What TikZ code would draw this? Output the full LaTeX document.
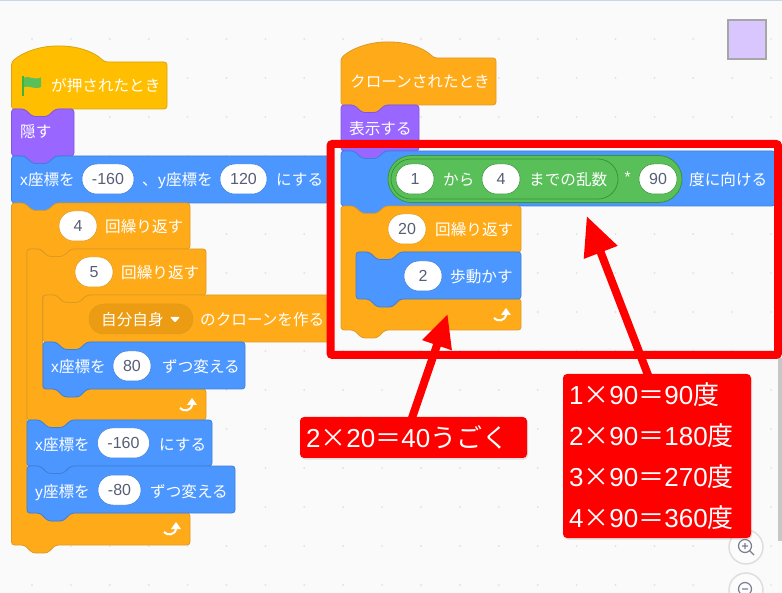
\documentclass[tikz,border=0pt]{standalone}
\usepackage{fontspec}
\setmainfont{Liberation Sans}
\newfontfamily\cjk{Noto Sans CJK JP}
\usetikzlibrary{arrows.meta,shadows}
\newcommand{\jp}[1]{{\cjk #1}}
\definecolor{motionblue}{HTML}{4C97FF}
\definecolor{motionline}{HTML}{3F7FDA}
\definecolor{ctrlorange}{HTML}{FFAB19}
\definecolor{ctrlline}{HTML}{DB9A25}
\definecolor{ctrldark}{HTML}{EC9C13}
\definecolor{looksviolet}{HTML}{9966FF}
\definecolor{looksline}{HTML}{8257DB}
\definecolor{eventyellow}{HTML}{FFBF00}
\definecolor{eventline}{HTML}{D9A50F}
\definecolor{opgreen}{HTML}{59C059}
\definecolor{opline}{HTML}{389438}
\definecolor{pilltext}{HTML}{575E75}
\definecolor{spritefill}{HTML}{D9C6FF}
\definecolor{topline}{HTML}{C9D6E8}
\tikzset{
	motion/.style={draw=motionline,fill=motionblue,line width=0.8pt,rounded corners=3pt},
	ctrl/.style={draw=ctrlline,fill=ctrlorange,line width=0.8pt,rounded corners=3pt},
	looks/.style={draw=looksline,fill=looksviolet,line width=0.8pt,rounded corners=3pt},
	event/.style={draw=eventline,fill=eventyellow,line width=0.8pt,rounded corners=3pt},
	lbl/.style={anchor=west,inner sep=0pt,text=white,text height=14pt,text depth=0pt,font=\fontsize{15.6}{18}\selectfont},
	pill/.style={rounded corners=14.9pt,fill=white,draw=#1,line width=0.5pt,inner sep=0pt,minimum height=30pt,text=pilltext,font=\fontsize{16}{18}\selectfont},
	pill/.default=motionline,
	note/.style={fill=red,text=white,rounded corners=4pt,inner ysep=0pt,inner xsep=6pt,align=left,drop shadow={opacity=0.22,shadow xshift=1pt,shadow yshift=-1.5pt}},
	notearrow/.style n args={2}{draw=red,line width=8pt,-{Triangle[length=#1,width=#2]}},
}
% left, top, right, bottom
\newcommand{\stackblock}[5]{
	\draw[#1] (#2,#3) -- ({#2+13},#3) -- ({#2+21},{#3+7.5}) -- ({#2+36},{#3+7.5}) -- ({#2+44},#3) -- (#4,#3) -- (#4,#5)
		-- ({#2+44},#5) -- ({#2+36},{#5+8}) -- ({#2+21},{#5+8}) -- ({#2+13},#5) -- (#2,#5) -- cycle;
}
% left, hat top, right, bottom
\newcommand{\hatblock}[5]{
	\draw[#1] (#2,{#3+16}) .. controls ({#2+14},{#3+4}) and ({#2+33},#3) .. ({#2+47},#3) .. controls ({#2+62},#3) and ({#2+81},{#3+4}) .. ({#2+93},{#3+16})
		[rounded corners=3pt] -- (#4,{#3+16}) -- (#4,#5) -- ({#2+44},#5) -- ({#2+36},{#5+8}) -- ({#2+21},{#5+8}) -- ({#2+13},#5) -- (#2,#5) -- cycle;
}
% left, top, right, bar bottom, foot top, bottom
\newcommand{\loopblock}[6]{
	\draw[ctrl] (#1,#2) -- ({#1+13},#2) -- ({#1+21},{#2+7.5}) -- ({#1+36},{#2+7.5}) -- ({#1+44},#2) -- (#3,#2) -- (#3,#4)
		-- ({#1+60},#4) -- ({#1+52},{#4+8}) -- ({#1+37},{#4+8}) -- ({#1+29},#4) -- ({#1+15.5},#4) -- ({#1+15.5},#5)
		-- ({#1+29},#5) -- ({#1+37},{#5+8}) -- ({#1+52},{#5+8}) -- ({#1+60},#5) -- (#3,#5) -- (#3,#6)
		-- ({#1+44},#6) -- ({#1+36},{#6+8}) -- ({#1+21},{#6+8}) -- ({#1+13},#6) -- (#1,#6) -- cycle;
}
\newcommand{\loopicon}[2]{
	\draw[white,line width=2pt] (#1,{#2+10}) .. controls ({#1+3},{#2+13.5}) and ({#1+11},{#2+14}) .. ({#1+12.3},{#2+6});
	\fill[white] ({#1+12},#2) -- ({#1+17},{#2+7}) -- ({#1+7},{#2+7}) -- cycle;
}
\begin{document}
\begin{tikzpicture}[x=1pt,y=-1pt]
	\useasboundingbox (0,0) rectangle (782,593);
	\fill[black!2] (0,0) rectangle (782,593);
	\fill[topline] (0,0) rectangle (782,1);
	\foreach \i in {0,...,19}
		\foreach \j in {1,...,15}
			\fill[black!11] ({32+38.9*\i},{39*\j}) circle (1.1pt);
	\fill[black!22] (778,358) rectangle (782,541);
	\draw[line width=2pt,fill=spritefill,draw=black!35] (728,20.5) rectangle (765.5,59.5);
	\draw[black!13,line width=1.5pt,fill=black!1] (746,547) circle (17pt);
	\draw[black!13,line width=1.5pt,fill=black!1] (746,590) circle (17pt);
	\draw[pilltext!80,line width=1.2pt] (745,546) circle (6.5pt) (749.5,550.5) -- (754,555) (742,546) -- (748,546) (745,543) -- (745,549);
	\draw[pilltext!80,line width=1.2pt] (745,589) circle (6.5pt) (742,589) -- (748,589);

	% left stack
	\hatblock{event}{11.5}{46}{167}{109}
	\stackblock{looks}{11.5}{109}{74}{156}
	\stackblock{motion}{11.5}{156}{332}{203}
	\loopblock{11.5}{203}{190}{249}{513}{545}
	\loopblock{27}{249}{206}{295}{389}{420}
	\stackblock{ctrl}{43}{295}{332}{342}
	\stackblock{motion}{43}{342}{245}{389}
	\stackblock{motion}{27}{420}{212}{466}
	\stackblock{motion}{27}{466}{235}{513}
	\loopicon{180}{398}
	\loopicon{164}{522}

	\fill[green!60!black!75] (22,76) rectangle (24.2,96);
	\fill[opgreen] (24.2,77.5) .. controls (29,75.5) and (34,80.5) .. (41,77.5) -- (41,87) .. controls (34,90) and (29,85) .. (24.2,87) -- cycle;
	\node[lbl] (flagtxt) at (51,85) {\jp{が押されたとき}};
	\node[lbl] (hidetxt) at (20,131) {\jp{隠す}};
	\node[lbl] (gotoa) at (20,179) {x\jp{座標を}};
	\node[pill,minimum width=52pt] (gotox) at (108,179) {-160};
	\node[lbl] (gotob) at (142,179) {\jp{、}};
	\node[lbl] (gotoc) at (158,179) {y\jp{座標を}};
	\node[pill,minimum width=47pt] (gotoy) at (243.5,179) {120};
	\node[lbl] (gotod) at (276,179) {\jp{にする}};
	\node[pill=ctrlline,minimum width=38pt] (outern) at (78,226) {4};
	\node[lbl] (outertxt) at (105,226) {\jp{回繰り返す}};
	\node[pill=ctrlline,minimum width=38pt] (innern) at (94,272) {5};
	\node[lbl] (innertxt) at (121,272) {\jp{回繰り返す}};
	\node[pill=ctrlline,fill=ctrldark,text=white,minimum width=104pt] (selfpill) at (141,319) {};
	\node[lbl] (selftxt) at (101,319) {\jp{自分自身}};
	\fill[white,rounded corners=1pt] (170,317) -- (180,317) -- (175,322.5) -- cycle;
	\node[lbl] (clonetxt) at (200,319) {\jp{のクローンを作る}};
	\node[lbl] (stepa) at (51,366) {x\jp{座標を}};
	\node[pill,minimum width=38pt] (stepn) at (132,366) {80};
	\node[lbl] (stepb) at (162,366) {\jp{ずつ変える}};
	\node[lbl] (setxa) at (35,443) {x\jp{座標を}};
	\node[pill,minimum width=52pt] (setxn) at (123.5,443) {-160};
	\node[lbl] (setxb) at (159,443) {\jp{にする}};
	\node[lbl] (stepya) at (35,490) {y\jp{座標を}};
	\node[pill,minimum width=43pt] (stepyn) at (119.5,490) {-80};
	\node[lbl] (stepyb) at (150,490) {\jp{ずつ変える}};

	% right stack
	\hatblock{ctrl}{341}{42}{496}{105}
	\stackblock{looks}{341}{105}{419}{151}
	\stackblock{motion}{341}{151}{775}{206}
	\loopblock{341}{206}{521}{252}{299}{330}
	\stackblock{motion}{356}{252}{521}{299}
	\loopicon{494}{308}

	\node[lbl] (clonedtxt) at (350,81) {\jp{クローンされたとき}};
	\node[lbl] (showtxt) at (349,128) {\jp{表示する}};
	\draw[opline,fill=opgreen,line width=0.8pt,rounded corners=23.5pt] (388,155.5) rectangle (682,202.5);
	\draw[opline,fill=opgreen,line width=0.8pt,rounded corners=20pt] (391,159) rectangle (618,199);
	\node[pill=opline,minimum width=38pt] (randa) at (415,179) {1};
	\node[lbl] (randb) at (443,179) {\jp{から}};
	\node[pill=opline,minimum width=38pt] (randc) at (501,179) {4};
	\node[lbl] (randd) at (529,179) {\jp{までの乱数}};
	\node[lbl] (times) at (624.5,176) {*};
	\node[pill=opline,minimum width=38pt] (angle) at (658,179) {90};
	\node[lbl] (pointtxt) at (689,179) {\jp{度に向ける}};
	\node[pill=ctrlline,minimum width=38pt] (repn) at (407,229) {20};
	\node[lbl] (reptxt) at (435,229) {\jp{回繰り返す}};
	\node[pill,minimum width=38pt] (moven) at (423,276) {2};
	\node[lbl] (movetxt) at (450,276) {\jp{歩動かす}};

	% notes
	\draw[red,line width=8pt,rounded corners=2pt] (330.5,144) rectangle (778,355);
	\node[note,text width=215pt,minimum height=41pt,font=\fontsize{26}{30}\selectfont] (movenote) at (413.5,437.5) {2\jp{×}20\jp{＝}40\jp{うごく}};
	\node[note,text width=176pt,minimum height=164pt,font=\fontsize{26}{41}\selectfont] (anglenote) at (657,456) {1\jp{×}90\jp{＝}90\jp{度}\\2\jp{×}90\jp{＝}180\jp{度}\\3\jp{×}90\jp{＝}270\jp{度}\\4\jp{×}90\jp{＝}360\jp{度}};
	\coordinate (movetip) at (447.7,314);
	\coordinate (angletip) at (586.7,216);
	\draw[notearrow={33pt}{29pt}] ([xshift=-1.8pt,yshift=-2pt]movenote.north) -- (movetip);
	\draw[notearrow={39pt}{34pt}] ([xshift=-8.7pt,yshift=-2pt]anglenote.north) -- (angletip);
\end{tikzpicture}
\end{document}
